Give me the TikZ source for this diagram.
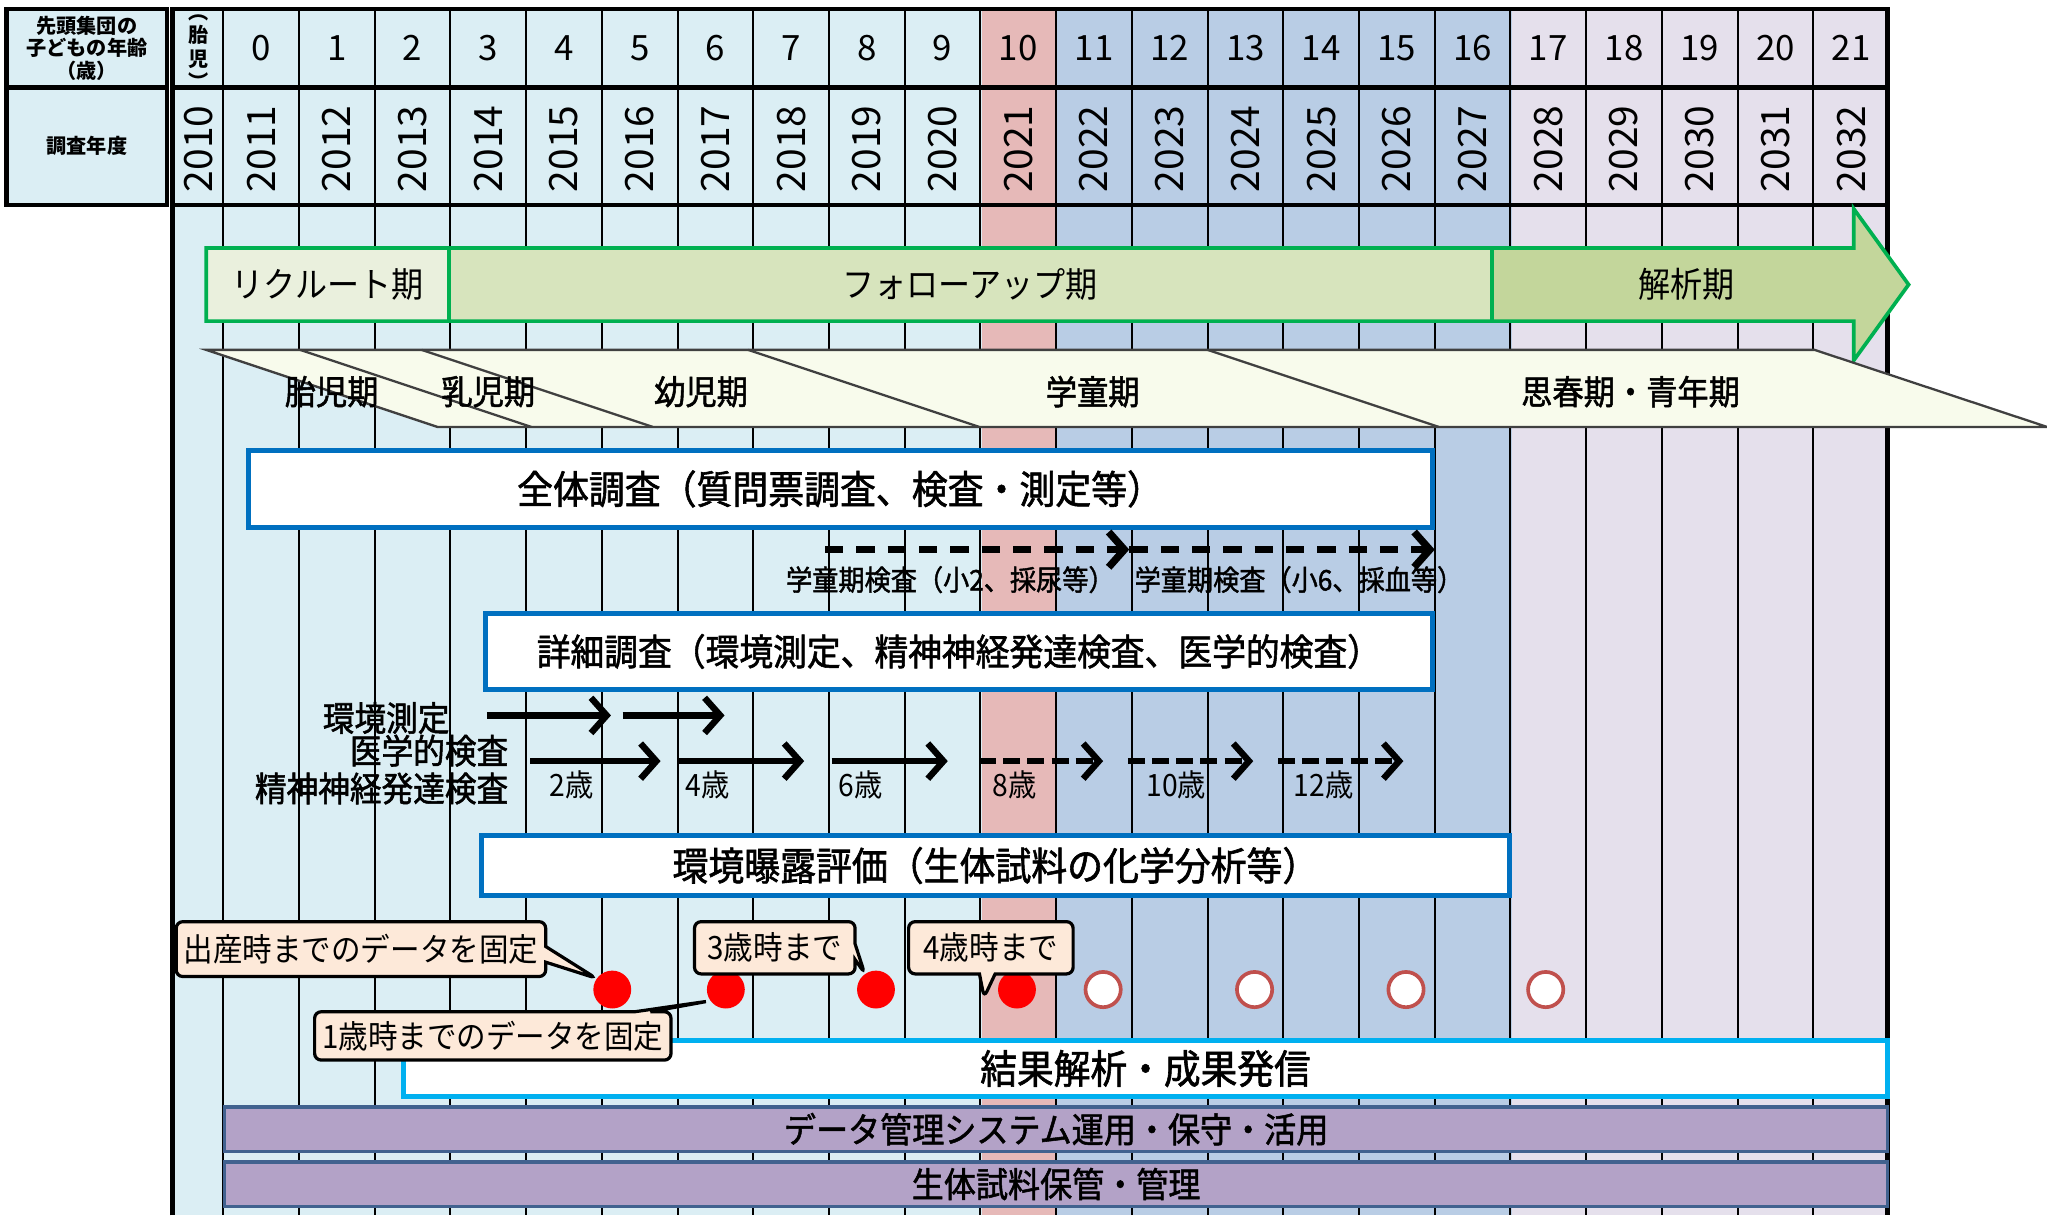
\documentclass[tikz,border=0pt]{standalone}
\usepackage{fontspec}
\setmainfont{Noto Sans CJK JP}
\newfontface\jpmid{Noto Sans CJK JP}[FakeBold=1.5,FakeStretch=0.92]
\newfontface\jpthin{Noto Sans CJK JP}[FakeStretch=0.92]
\usetikzlibrary{positioning,arrows.meta,shapes.callouts}

\definecolor{pastblue}{HTML}{DBEEF4}
\definecolor{nowpink}{HTML}{E6B9B8}
\definecolor{nextblue}{HTML}{B9CDE5}
\definecolor{latelav}{HTML}{E5E0EC}
\definecolor{arrowgreen}{HTML}{00B050}
\definecolor{recruitfill}{HTML}{EAF0DD}
\definecolor{followfill}{HTML}{D7E4BD}
\definecolor{analysisfill}{HTML}{C3D69B}
\definecolor{stagefill}{HTML}{F8FBEC}
\definecolor{surveyblue}{HTML}{0070C0}
\definecolor{resultblue}{HTML}{00B0F0}
\definecolor{mgmtpurple}{HTML}{B3A2C7}
\definecolor{mgmtborder}{HTML}{41628F}
\definecolor{notefill}{HTML}{FDE9D9}
\definecolor{openring}{HTML}{C0504D}

\newcommand{\jfs}[1]{\fontsize{#1}{#1}\selectfont}

\begin{document}
\begin{tikzpicture}[x=0.1mm,y=-0.1mm]

	\tikzstyle{gridline}=[line width=0.45pt]
	\tikzstyle{frameline}=[line width=1pt]
	\tikzstyle{headbox}=[draw, line width=1pt, fill=pastblue, inner sep=0pt, align=center, minimum width=12.3mm, font=\bfseries\fontsize{4.4}{4.9}\selectfont]
	\tikzstyle{agenum}=[inner sep=0pt, font=\jfs{7.6}]
	\tikzstyle{yearnum}=[inner sep=0pt, rotate=90, font=\jfs{8.5}]
	\tikzstyle{phase}=[inner sep=0pt, font=\jpthin\jfs{7.6}]
	\tikzstyle{stageline}=[draw=black!75, line width=0.5pt]
	\tikzstyle{stage}=[inner sep=0pt, font=\jpmid\jfs{7.4}]
	\tikzstyle{planbox}=[draw=surveyblue, line width=1.1pt, fill=white, inner sep=0pt, font=\jpmid\jfs{8.5}]
	\tikzstyle{mgmtbar}=[draw=mgmtborder, line width=0.7pt, fill=mgmtpurple, inner sep=0pt, minimum width=127.4mm, minimum height=3.4mm, font=\jpmid\jfs{7.6}]
	\tikzstyle{sidelabel}=[inner sep=0pt, anchor=east, font=\jpmid\jfs{7.5}]
	\tikzstyle{agetag}=[inner sep=0pt, font=\jpthin\jfs{6.7}]
	\tikzstyle{checklabel}=[inner sep=0pt, font=\jpmid\jfs{6.2}]
	\tikzstyle{note}=[rectangle callout, draw, line width=0.7pt, fill=notefill, rounded corners=0.5mm, inner sep=0pt, callout pointer width=1.2mm, font=\jpthin\jfs{7}]
	\tikzstyle{fixed}=[circle, fill=red, inner sep=0pt, minimum size=2.9mm]
	\tikzstyle{planned}=[circle, draw=openring, line width=0.8pt, fill=white, inner sep=0pt, minimum size=2.7mm]
	\tikzstyle{span}=[line width=1.4pt, -{Straight Barb[length=1.2mm,width=2.7mm]}]
	\tikzstyle{future}=[span, dash pattern=on 1.3mm off 0.55mm]

	\useasboundingbox (0,0) rectangle (1568,931);

	% columns
	\fill[pastblue] (132,7) rectangle (752,931);
	\fill[nowpink] (752,7) rectangle (810,931);
	\fill[nextblue] (810,7) rectangle (1158,931);
	\fill[latelav] (1158,7) rectangle (1446,931);
	\foreach \i in {0,...,21}
		\draw[gridline] ({171+58*\i},7) -- ({171+58*\i},931);
	\draw[frameline] (132,931) -- (132,7) -- (1446,7) -- (1446,931);
	\draw[frameline] (132,67) -- (1446,67);
	\draw[frameline] (132,157) -- (1446,157);

	\node[headbox, minimum height=6mm] (agehead) at (66.5,37) {先頭集団の\\子どもの年齢\\（歳）};
	\node[headbox, minimum height=9mm] (yearhead) at (66.5,112) {調査年度};

	\node[inner sep=0pt, align=center, font=\bfseries\fontsize{4.4}{3.5}\selectfont] (fetalage) at (152,40) {︵\\胎\\児\\︶};
	\node[yearnum] (y2010) at (152,114) {2010};
	\foreach \i in {0,...,21} {
		\pgfmathtruncatemacro{\yr}{2011+\i}
		\node[agenum] (age\i) at ({200+58*\i},37) {\i};
		\node[yearnum] (y\yr) at ({200+58*\i},114) {\yr};
	}

	% periods
	\fill[analysisfill] (158,190) -- (1420,190) -- (1420,160) -- (1462,218) -- (1420,276) -- (1420,246) -- (158,246) -- cycle;
	\fill[recruitfill] (158,190) rectangle (344,246);
	\fill[followfill] (344,190) rectangle (1143,246);
	\draw[arrowgreen, line width=0.8pt] (158,190) -- (1420,190) -- (1420,160) -- (1462,218) -- (1420,276) -- (1420,246) -- (158,246) -- cycle;
	\draw[arrowgreen, line width=0.8pt] (344,190) -- (344,246) (1143,190) -- (1143,246);
	\node[phase] (recruit) at (251,218) {リクルート期};
	\node[phase] (follow) at (743,218) {フォローアップ期};
	\node[phase] (analysis) at (1292,218) {解析期};

	% life stages
	\fill[stagefill] (158,268) -- (1390,268) -- (1568,327) -- (335,327) -- cycle;
	\draw[stageline] (335,327) -- (158,268) -- (1390,268) -- (1568,327) -- cycle;
	\foreach \t in {230,323,573,925}
		\draw[stageline] (\t,268) -- ({\t+177},327);
	\node[stage] (fetal) at (254,300) {胎児期};
	\node[stage] (infant) at (374,300) {乳児期};
	\node[stage] (toddler) at (537,300) {幼児期};
	\node[stage] (school) at (837,300) {学童期};
	\node[stage] (youth) at (1249,300) {思春期・青年期};

	% surveys
	\node[planbox, minimum width=90.7mm, minimum height=5.9mm] (survey) at (643.5,374.5) {全体調査（質問票調査、検査・測定等）};
	\coordinate (chk0) at (632,421);
	\coordinate (chk1) at (865,421);
	\coordinate (chk2) at (1099,421);
	\draw[span, line width=1.6pt, dash pattern=on 1.4mm off 1mm] (chk0) -- (chk1);
	\draw[span, line width=1.6pt, dash pattern=on 1.4mm off 1mm] (chk1) -- (chk2);
	\node[checklabel] (checkA) at (728,444) {学童期検査（小2、採尿等）};
	\node[checklabel] (checkB) at (995,444) {学童期検査（小6、採血等）};

	\node[planbox, minimum width=72.5mm, minimum height=5.8mm, font=\jpmid\jfs{8}] (detail) at (734.5,499) {詳細調査（環境測定、精神神経発達検査、医学的検査）};
	\node[sidelabel] (envlabel) at (345,550) {環境測定};
	\node[sidelabel] (medlabel) at (390,575) {医学的検査};
	\node[sidelabel] (neurolabel) at (390,604) {精神神経発達検査};
	\foreach \a/\b [count=\k] in {373/468,477/555} {
		\coordinate (envs\k) at (\a,548);
		\coordinate (enve\k) at (\b,548);
		\draw[span] (envs\k) -- (enve\k);
	}
	\foreach \a/\b/\t/\age in {406/506/438/2,520/616/542/4,637/726/659/6} {
		\coordinate (exams\age) at (\a,583);
		\coordinate (exame\age) at (\b,583);
		\draw[span] (exams\age) -- (exame\age);
		\node[agetag] (tag\age) at (\t,601) {{\age}歳};
	}
	\foreach \a/\b/\t/\age in {750/845/777/8,864/960/901/10,979/1075/1014/12} {
		\coordinate (exams\age) at (\a,583);
		\coordinate (exame\age) at (\b,583);
		\draw[future] (exams\age) -- (exame\age);
		\node[agetag] (tag\age) at (\t,601) {{\age}歳};
	}

	\node[planbox, minimum width=78.7mm, minimum height=4.6mm] (exposure) at (762.5,663) {環境曝露評価（生体試料の化学分析等）};

	% analysis and data
	\node[planbox, draw=resultblue, minimum width=113.7mm, minimum height=4.3mm, font=\jpmid\jfs{8.7}] (result) at (877.5,818.5) {結果解析・成果発信};
	\node[mgmtbar] (datamgmt) at (809,865) {データ管理システム運用・保守・活用};
	\node[mgmtbar] (biobank) at (809,907) {生体試料保管・管理};

	\foreach \x [count=\k] in {469,556,671,779}
		\node[fixed] (fix\k) at (\x,758) {};
	\foreach \x [count=\k] in {845,961,1077,1184}
		\node[planned] (plan\k) at (\x,758) {};

	\node[note, minimum width=28.3mm, minimum height=4.2mm, callout absolute pointer={(fix1.145)}] (birthnote) at (276.5,727) {出産時までのデータを固定};
	\node[note, minimum width=12.3mm, minimum height=4mm, callout absolute pointer={(fix3.125)}] (age3note) at (593.5,726) {3歳時まで};
	\node[note, minimum width=12.6mm, minimum height=4mm, callout absolute pointer={([xshift=-1mm,yshift=-0.6mm]fix4.west)}] (age4note) at (759,726) {4歳時まで};
	\node[note, minimum width=27.3mm, minimum height=3.7mm, callout absolute pointer={(fix2.215)}] (age1note) at (377.5,793.5) {1歳時までのデータを固定};

\end{tikzpicture}
\end{document}
